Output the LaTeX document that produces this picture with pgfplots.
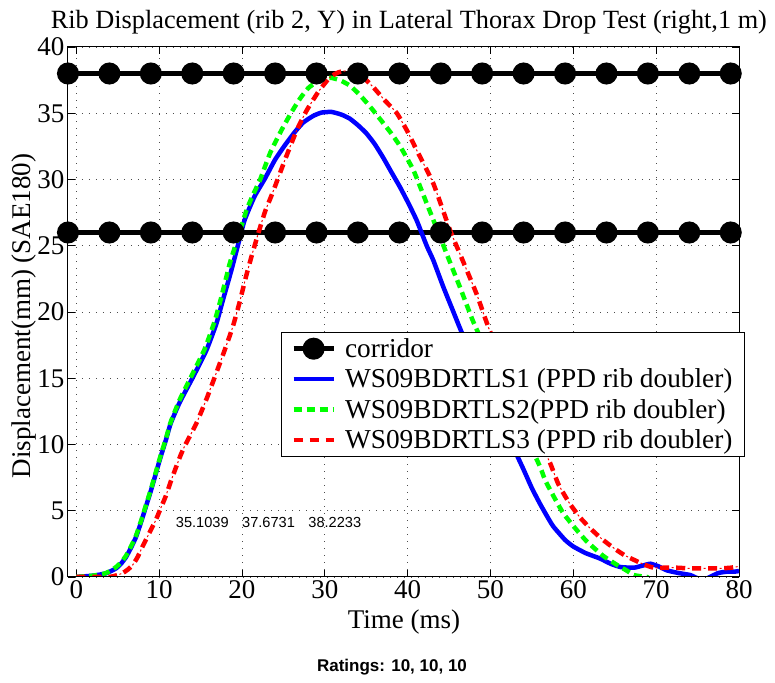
\documentclass[border=0pt]{standalone}
\usepackage{fontspec}
\setmainfont{Liberation Serif}
\newfontfamily\helv{Liberation Sans}
\usepackage{pgfplots}
\pgfplotsset{compat=1.18}
\definecolor{mblue}{rgb}{0,0,1}
\definecolor{mgreen}{rgb}{0,1,0}
\definecolor{mred}{rgb}{1,0,0}
\pgfplotsset{
  corrleg/.style={legend image code/.code={\draw[mark repeat=2,mark phase=2,##1] plot coordinates {(0bp,0bp) (20bp,0bp) (40bp,0bp)};}},
  lineleg/.style={legend image code/.code={\draw[##1] (0bp,0bp) -- (40bp,0bp);}},
  redleg/.style={legend image code/.code={\draw[##1] (0bp,0bp) -- (40bp,0bp); \draw[mred, line width=1bp] (6bp,0bp) -- (8bp,0bp) (22bp,0bp) -- (24bp,0bp);}},
}
\begin{document}
\begin{tikzpicture}
\useasboundingbox (-68bp,-106bp) rectangle (707bp,577bp);
\begin{axis}[
  at={(0,0)}, anchor=south west,
  scale only axis, width=671bp, height=530bp,
  xmin=-1, xmax=80, ymin=0, ymax=40,
  xtick={0,10,...,80}, ytick={0,5,...,40},
  tick align=inside, major tick length=7bp,
  grid=major,
  major grid style={black!70, line width=0.7bp, dash pattern=on 1bp off 6bp},
  axis line style={line width=1bp},
  every tick/.style={black, line width=0.8bp},
  /pgf/number format/assume math mode=true,
  tick label style={font=\fontsize{27bp}{29bp}\selectfont},
  xlabel={Time (ms)},
  xlabel style={at={(axis description cs:0.5007,0)}, anchor=center, yshift=-45bp, font=\fontsize{27bp}{29bp}\selectfont},
  ylabel={Displacement(mm) (SAE180)},
  ylabel style={at={(axis description cs:-0.0656,0.4925)}, anchor=center, font=\fontsize{27bp}{29bp}\selectfont},
  title={Rib Displacement (rib 2, Y) in Lateral Thorax Drop Test (right,1 m)},
  title style={at={(axis description cs:0.508,1)}, anchor=base, yshift=13bp, font=\fontsize{26.3bp}{28bp}\selectfont},
  legend cell align=left,
  legend style={at={(axis description cs:1.00894,0.4623)}, anchor=north east,
    draw=black, line width=1bp, fill=white,
    font=\fontsize{27.3bp}{29bp}\selectfont,
    row sep=6bp, inner xsep=10bp, inner ysep=4bp,
    /tikz/every odd column/.append style={column sep=7bp}},
]
% corridor
\addplot[black, line width=5bp, mark=*, mark size=8.5bp, mark options={solid, fill=black}, corrleg]
  coordinates {(-1,38) (4,38) (9,38) (14,38) (19,38) (24,38) (29,38) (34,38) (39,38) (44,38) (49,38) (54,38) (59,38) (64,38) (69,38) (74,38) (79,38)};
\addlegendentry{corridor}
\addplot[black, line width=5bp, forget plot] coordinates {(79,38) (80,38)};
\addplot[black, line width=5bp, mark=*, mark size=8.5bp, mark options={solid, fill=black}, forget plot]
  coordinates {(-1,26) (4,26) (9,26) (14,26) (19,26) (24,26) (29,26) (34,26) (39,26) (44,26) (49,26) (54,26) (59,26) (64,26) (69,26) (74,26) (79,26)};
\addplot[black, line width=5bp, forget plot] coordinates {(79,26) (80,26)};
% WS09BDRTLS1
\addplot[mblue, line width=4.5bp, smooth, tension=0.3, lineleg] coordinates {
(0,0) (1,0.05) (2,0.1) (3,0.2) (3.6,0.28) (4.2,0.45) (4.8,0.65) (5.4,1.0) (6,1.5) (6.6,2.2) (7.2,3.0) (7.8,4.1) (8.4,5.3) (9,6.5) (9.6,7.8) (10.2,9.1) (10.8,10.3) (11.4,11.6) (12.5,13.2) (14.1,15.1) (15.7,17.1) (16.9,19.1) (17.7,20.9) (18.7,23.1) (19.5,25.0) (20.3,26.9) (21.5,28.7) (22.8,30.1) (24,31.5) (25.2,32.6) (26.4,33.6) (27.4,34.3) (28.6,34.8) (29.6,35.05) (30.8,35.10) (32,34.9) (33,34.6) (34,34.1) (35,33.5) (36,32.7) (37,31.7) (38,30.6) (39.1,29.4) (40.1,28.2) (41.1,26.9) (42.3,25.0) (43.1,23.9) (44.3,21.9) (45.4,20.2) (46.5,18.5) (48,16.4) (50,13.5) (52,10.8) (54,8.1) (55,6.7) (56,5.5) (57,4.4) (57.6,3.8) (59,2.8) (60,2.3) (61.5,1.8) (63.2,1.4) (64.5,1.0) (65.7,0.75) (67.3,0.7) (68.3,0.85) (69.3,1.0) (70.3,0.8) (71.3,0.5) (72.7,0.3) (74.1,0.15) (75,-0.1) (75.8,-0.2) (76.5,0) (77.5,0.3) (78.5,0.4) (79.4,0.4) (80,0.45)};
\addlegendentry{WS09BDRTLS1 (PPD rib doubler)}
% WS09BDRTLS2
\addplot[mgreen, line width=4.5bp, dash pattern=on 8bp off 5bp, smooth, tension=0.3, lineleg] coordinates {
(0,0) (1,0.05) (2,0.1) (3,0.2) (3.6,0.3) (4.2,0.5) (4.8,0.75) (5.4,1.1) (6,1.6) (6.6,2.3) (7.2,3.1) (7.8,4.2) (8.4,5.4) (9,6.6) (9.6,7.9) (10.2,9.2) (10.8,10.4) (11.4,11.7) (12.5,13.4) (14,15.3) (15.5,17.2) (16.7,19.3) (17.5,21.1) (18.5,23.6) (19.3,25.2) (20.5,27.6) (21.3,28.8) (22.2,30) (23.4,32) (24.75,33.7) (26,35.1) (27,36.1) (28,36.9) (29,37.35) (30,37.62) (30.8,37.67) (31.8,37.5) (33,37.1) (34.2,36.4) (35.6,35.4) (37,34.3) (38,33.5) (39.1,32.5) (40.7,30.7) (42.3,28.2) (43.9,25.7) (44.7,24.4) (46.3,21.9) (47.9,19.3) (50,16.4) (52,13.7) (54,11.0) (56,8.3) (56.6,7.3) (57.7,6.0) (58.8,4.8) (60.2,3.7) (61.6,2.7) (63.6,1.6) (65.3,0.9) (66.4,0.5) (67.3,0.15) (68.2,0.05) (68.9,0) (69.5,-0.3) (70.5,-0.6) (72,-1) (80,-1.5)};
\addlegendentry{WS09BDRTLS2(PPD rib doubler)}
% WS09BDRTLS3
\addplot[mred, line width=4.5bp, dash pattern=on 9bp off 7bp, smooth, tension=0.3, redleg] coordinates {
(0,0) (2,0) (3,0) (4,0) (4.4,0.05) (5,0.15) (5.6,0.3) (6.2,0.55) (6.8,0.9) (7.4,1.5) (8,2.3) (8.8,3.3) (9.6,4.3) (10.2,5.2) (10.8,6.1) (11.4,7.2) (12.05,8.3) (12.6,9.2) (13.1,9.9) (14.5,11.6) (15.7,13.4) (16.9,15.4) (17.9,17.1) (18.9,18.9) (19.7,20.7) (20.5,22.7) (21.2,24.3) (22.0,26) (22.8,27.6) (23.7,29) (25.2,31.5) (26.6,33.7) (27.8,35.2) (29.2,36.6) (30.6,37.7) (31.7,38.1) (33,38.22) (34.3,37.9) (35.8,37.0) (37.2,36.0) (38.7,35) (40,33.6) (41.1,32.2) (43.1,29.7) (45.1,26.2) (46.3,24.4) (48.3,21.4) (49.9,18.6) (52,15.7) (54,12.9) (56,10.2) (57.2,8.6) (58.2,7.0) (59.5,5.6) (60.8,4.5) (62,3.7) (63.2,3.0) (64.2,2.5) (65.3,2.0) (66.3,1.6) (67.3,1.3) (68.5,0.95) (69.7,0.7) (71,0.7) (72.5,0.7) (74,0.65) (75.3,0.65) (77.7,0.65) (79,0.7) (80,0.8)};
\addlegendentry{WS09BDRTLS3 (PPD rib doubler)}
\addplot[mred, line width=1bp, dash pattern=on 2bp off 14bp, dash phase=4.5bp, smooth, tension=0.3, forget plot] coordinates {
(0,0) (2,0) (3,0) (4,0) (4.4,0.05) (5,0.15) (5.6,0.3) (6.2,0.55) (6.8,0.9) (7.4,1.5) (8,2.3) (8.8,3.3) (9.6,4.3) (10.2,5.2) (10.8,6.1) (11.4,7.2) (12.05,8.3) (12.6,9.2) (13.1,9.9) (14.5,11.6) (15.7,13.4) (16.9,15.4) (17.9,17.1) (18.9,18.9) (19.7,20.7) (20.5,22.7) (21.2,24.3) (22.0,26) (22.8,27.6) (23.7,29) (25.2,31.5) (26.6,33.7) (27.8,35.2) (29.2,36.6) (30.6,37.7) (31.7,38.1) (33,38.22) (34.3,37.9) (35.8,37.0) (37.2,36.0) (38.7,35) (40,33.6) (41.1,32.2) (43.1,29.7) (45.1,26.2) (46.3,24.4) (48.3,21.4) (49.9,18.6) (52,15.7) (54,12.9) (56,10.2) (57.2,8.6) (58.2,7.0) (59.5,5.6) (60.8,4.5) (62,3.7) (63.2,3.0) (64.2,2.5) (65.3,2.0) (66.3,1.6) (67.3,1.3) (68.5,0.95) (69.7,0.7) (71,0.7) (72.5,0.7) (74,0.65) (75.3,0.65) (77.7,0.65) (79,0.7) (80,0.8)};
\node[anchor=west, inner sep=0pt, font=\helv\fontsize{14.6bp}{16bp}\selectfont] at (axis cs:12,4.08) {35.1039};
\node[anchor=west, inner sep=0pt, font=\helv\fontsize{14.6bp}{16bp}\selectfont] at (axis cs:20,4.08) {37.6731};
\node[anchor=west, inner sep=0pt, font=\helv\fontsize{14.6bp}{16bp}\selectfont] at (axis cs:28,4.08) {38.2233};
\draw[line width=2.5bp] (rel axis cs:0,0) -- (rel axis cs:1,0);
\end{axis}
\node[anchor=base, inner sep=0pt, font=\helv\bfseries\fontsize{17bp}{19bp}\selectfont] at (324bp,-94bp) {Ratings: 10, 10, 10};
\end{tikzpicture}
\end{document}
